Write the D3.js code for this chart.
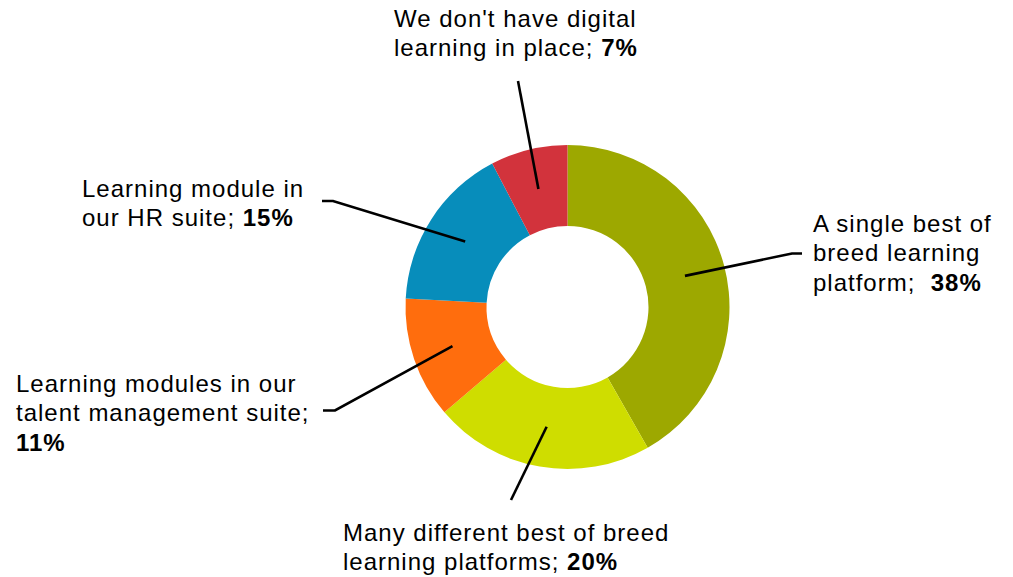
<!DOCTYPE html>
<html>
<head>
<meta charset="utf-8">
<script src="https://cdn.jsdelivr.net/npm/d3@7"></script>
<style>
  html, body { margin: 0; padding: 0; background: #ffffff; }
  svg { display: block; }
  text { font-family: "Liberation Sans", Arial, sans-serif; font-size: 24px; fill: #000; letter-spacing: 1px; }
</style>
</head>
<body>
<svg id="chart" width="1013" height="577"></svg>
<script>
// Share of respondents by type of learning platform in use
const categories = [
  "A single best of breed learning platform",
  "Many different best of breed learning platforms",
  "Learning modules in our talent management suite",
  "Learning module in our HR suite",
  "We don't have digital learning in place"
];
const values = [38, 20, 11, 15, 7];
const colors = ["#9da800", "#cfdd00", "#ff6d0d", "#078dbb", "#d2333c"];

// Wrapped label text; the bold percentage is appended to the last line
const labelLines = [
  ["A single best of", "breed learning", "platform;  "],
  ["Many different best of breed", "learning platforms; "],
  ["Learning modules in our", "talent management suite;", ""],
  ["Learning module in", "our HR suite; "],
  ["We don't have digital", "learning in place; "]
];

// Label placement: text origin, leader-line elbow and end
const labelLayout = [
  { x: 813, y: 232, elbow: [792, 253.5], end: [802, 253.5] },
  { x: 343, y: 541, elbow: null, end: [511, 500] },
  { x: 16,  y: 392, elbow: [335, 410.5], end: [323, 410.5] },
  { x: 82,  y: 197, elbow: [333, 201], end: [322, 201] },
  { x: 394, y: 27,  elbow: null, end: [518, 81] }
];
const lineHeight = 29.3;

const cx = 567.5, cy = 307, outerR = 162, innerR = 81;
const svg = d3.select("#chart");
const g = svg.append("g").attr("transform", `translate(${cx},${cy})`);

const data = categories.map((c, i) => ({ name: c, value: values[i], color: colors[i], i }));
const pie = d3.pie().value(d => d.value).sort(null);
const arc = d3.arc().innerRadius(innerR).outerRadius(outerR);
const arcs = pie(data);

g.selectAll("path.slice")
  .data(arcs)
  .join("path")
  .attr("class", "slice")
  .attr("d", arc)
  .attr("fill", d => d.data.color);

// Leader lines from the ring's mid-radius to each label
const lines = svg.append("g");
arcs.forEach(a => {
  const c = arc.centroid(a);
  const L = labelLayout[a.data.i];
  const pts = [[cx + c[0], cy + c[1]]];
  if (L.elbow) pts.push(L.elbow);
  pts.push(L.end);
  lines.append("path")
    .attr("d", d3.line()(pts))
    .attr("fill", "none")
    .attr("stroke", "#000")
    .attr("stroke-width", 2.6);
});

// Labels
const labels = svg.append("g");
data.forEach(d => {
  const L = labelLayout[d.i];
  const rows = labelLines[d.i];
  const t = labels.append("text")
    .attr("x", L.x).attr("y", L.y)
    .attr("xml:space", "preserve");
  rows.forEach((r, k) => {
    const ts = t.append("tspan")
      .attr("x", L.x)
      .attr("y", L.y + k * lineHeight)
      .text(r);
    if (k === rows.length - 1) {
      ts.append("tspan").attr("font-weight", "bold").text(d.value + "%");
    }
  });
});
</script>
</body>
</html>
